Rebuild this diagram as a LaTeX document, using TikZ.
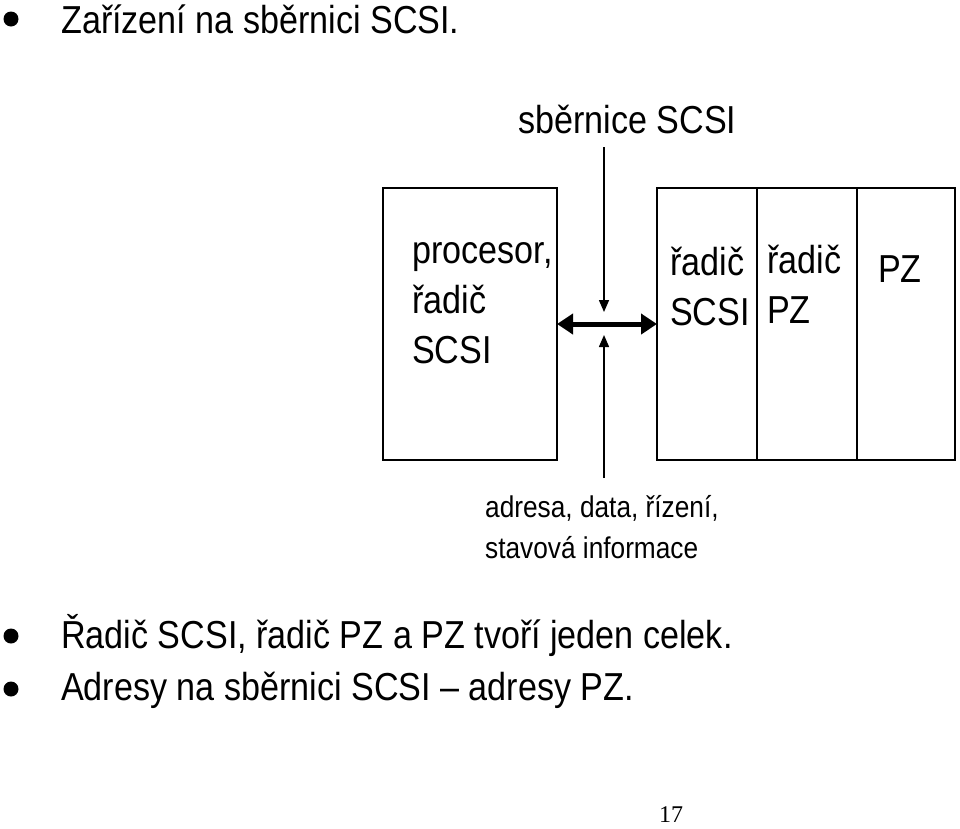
\documentclass[tikz,border=0pt]{standalone}
\usepackage{fontspec}
\setmainfont[FakeStretch=0.875]{Liberation Sans}
\newfontfamily\pagefont{Liberation Serif}
\usetikzlibrary{arrows.meta}
\usetikzlibrary{positioning}
\tikzset{unit/.style = {draw, line width = 2.5pt, inner sep = 0, outer sep = 0,
                        minimum height = 272pt}}
\tikzset{big/.style = {font = \fontsize{39}{50}\selectfont, inner sep = 0,
                       anchor = base west, align = left}}
\tikzset{small/.style = {font = \fontsize{30}{41}\selectfont, inner sep = 0,
                         anchor = base west, align = left}}
\tikzset{dot/.style = {fill, circle, inner sep = 0, minimum size = 15pt}}
\tikzset{bus/.style = {line width = 5pt,
                       {Triangle[length=16pt, width=20pt]}-{Triangle[length=16pt, width=20pt]}}}
\tikzset{sig/.style = {line width = 1.5pt, -{Triangle[length=12pt, width=10pt]}}}

\begin{document}
\begin{tikzpicture}[x=1pt, y=-1pt]
      \useasboundingbox (0, 0) rectangle (960, 828);

      % bullets
      \node [dot] (d1) at (11, 19) {};
      \node [dot] (d2) at (11, 636) {};
      \node [dot] (d3) at (11, 689) {};
      \node [big] (t1) at (61, 33) {Zařízení na sběrnici SCSI.};
      \node [big] (t2) at (61, 648) {Řadič SCSI, řadič PZ a PZ tvoří jeden celek.};
      \node [big] (t3) at (61, 700) {Adresy na sběrnici SCSI – adresy PZ.};

      % boxes (base of a multi-line label = its last line)
      \node [unit, minimum width = 174pt] (host) at (470, 324) {};
      \node [unit, minimum width = 100pt] (ctl) at (707, 324) {};
      \node [unit, minimum width = 100pt, right = 0pt of ctl] (dev) {};
      \node [unit, minimum width = 98pt, right = 0pt of dev] (disk) {};

      \node [big] (hostlbl) at (412, 363) {procesor,\\řadič\\SCSI};
      \node [big] (ctllbl) at (670, 325) {řadič\\SCSI};
      \node [big] (devlbl) at (767, 323) {řadič\\PZ};
      \node [big] (disklbl) at (878, 282) {PZ};

      % bus
      \node [big] (buslbl) at (518, 133) {sběrnice SCSI};
      \node [small] (siglbl) at (485, 558) {adresa, data, řízení,\\stavová informace};
      \coordinate (bustop) at (604, 147);
      \coordinate (busdown) at (604, 312);
      \coordinate (busup) at (604, 335);
      \coordinate (busbot) at (604, 478);
      \draw [bus] (host) -- (ctl);
      \draw [sig] (bustop) -- (busdown);
      \draw [sig] (busbot) -- (busup);

      \node [font = \pagefont\fontsize{24}{28}\selectfont, inner sep = 0,
             anchor = base] (page) at (671, 822) {17};
    \end{tikzpicture}
\end{document}
